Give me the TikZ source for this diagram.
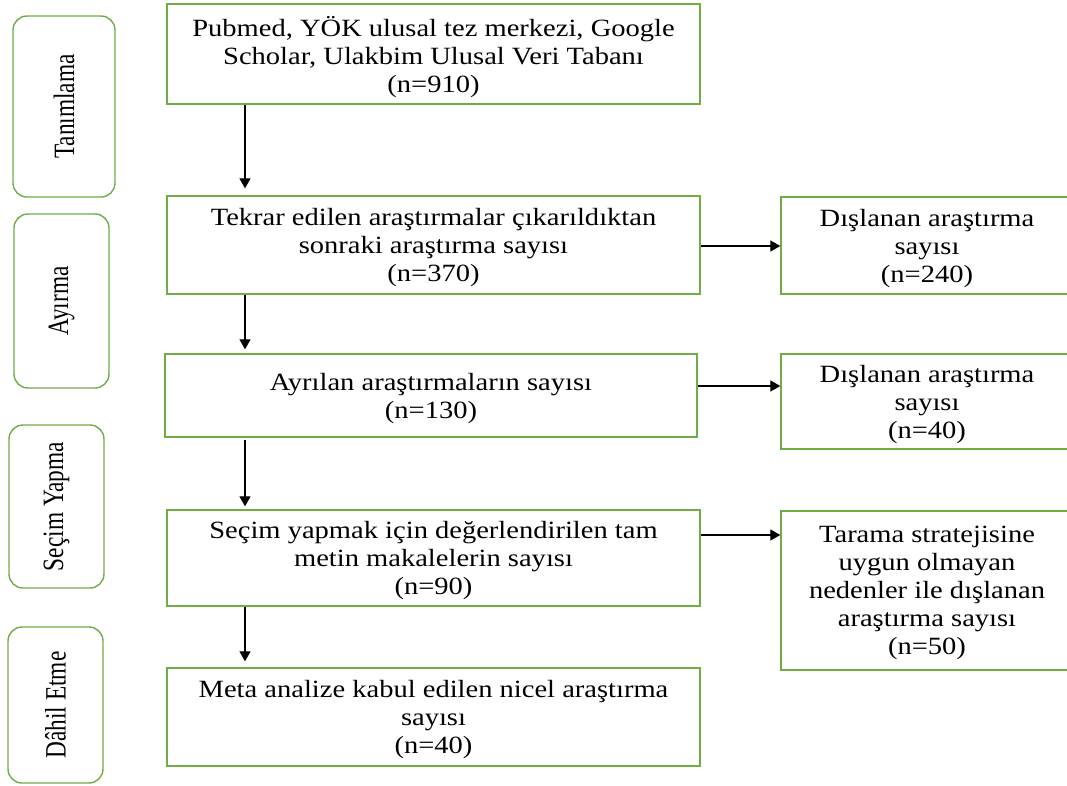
\documentclass[tikz,border=0pt]{standalone}
\usepackage{fontspec}
\setmainfont[FakeStretch=1.15]{Liberation Serif}
\newfontfamily\rotfont[FakeStretch=0.79]{Liberation Serif}
\usetikzlibrary{arrows.meta}
\definecolor{boxgreen}{HTML}{70AD47}
\begin{document}
\begin{tikzpicture}[x=1pt,y=-1pt,
  mainbox/.style={draw=boxgreen, line width=1.4pt, rectangle, inner sep=0pt, align=center, text depth=-3pt, font=\fontsize{24.8}{28}\selectfont},
  phase/.style={draw=boxgreen, line width=1.4pt, rectangle, rounded corners=14pt, inner sep=0pt, font=\rotfont\fontsize{29.5}{32}\selectfont},
  arr/.style={-{Triangle[length=10pt,width=11pt]}, line width=1.2pt, draw=black}]
\clip (0,0) rectangle (1067,785);
\fill[white] (0,0) rectangle (1067,785);

% phase boxes
\node[phase, minimum width=102pt, minimum height=181pt] (p1) at (64,106.5) {\rotatebox{90}{Tanımlama}};
\node[phase, minimum width=95pt, minimum height=174pt] (p2) at (61.5,301) {\rotatebox{90}{Ayırma}};
\node[phase, minimum width=95pt, minimum height=163pt] (p3) at (56.5,506.5) {\rotatebox{90}{Seçim Yapma}};
\node[phase, minimum width=95pt, minimum height=156pt] (p4) at (55.5,705) {\rotatebox{90}{Dâhil Etme}};

% main boxes
\node[mainbox, minimum width=533pt, minimum height=100pt] (b1) at (433.5,54) {Pubmed, YÖK ulusal tez merkezi, Google\\Scholar, Ulakbim Ulusal Veri Tabanı\\(n=910)};
\node[mainbox, minimum width=533pt, minimum height=98pt] (b2) at (433.5,245) {Tekrar edilen araştırmalar çıkarıldıktan\\sonraki araştırma sayısı\\(n=370)};
\node[mainbox, minimum width=532pt, minimum height=83pt] (b3) at (431,395.5) {Ayrılan araştırmaların sayısı\\(n=130)};
\node[mainbox, minimum width=533pt, minimum height=96pt] (b4) at (433.5,558) {Seçim yapmak için değerlendirilen tam\\metin makalelerin sayısı\\(n=90)};
\node[mainbox, minimum width=533pt, minimum height=98pt] (b5) at (433.5,717) {Meta analize kabul edilen nicel araştırma\\sayısı\\(n=40)};

% right boxes
\node[mainbox, minimum width=292pt, minimum height=97pt] (r1) at (927,245.5) {Dışlanan araştırma\\sayısı\\(n=240)};
\node[mainbox, minimum width=292pt, minimum height=95pt] (r2) at (927,401.5) {Dışlanan araştırma\\sayısı\\(n=40)};
\node[mainbox, minimum width=292pt, minimum height=159pt] (r3) at (927,590.5) {Tarama stratejisine\\uygun olmayan\\nedenler ile dışlanan\\araştırma sayısı\\(n=50)};

% connectors
\coordinate (ax) at (245,0);
\coordinate (h1) at (0,246);
\coordinate (h2) at (0,386);
\coordinate (h3) at (0,535);
\draw[arr, shorten >=7pt] (b1.south -| ax) -- (b2.north -| ax);
\draw[arr, shorten >=4pt] (b2.south -| ax) -- (b3.north -| ax);
\draw[arr, shorten <=2pt, shorten >=3pt] (b3.south -| ax) -- (b4.north -| ax);
\draw[arr, shorten >=6pt] (b4.south -| ax) -- (b5.north -| ax);
\draw[arr] (b2.east |- h1) -- (r1.west |- h1);
\draw[arr] (b3.east |- h2) -- (r2.west |- h2);
\draw[arr] (b4.east |- h3) -- (r3.west |- h3);
\end{tikzpicture}
\end{document}
